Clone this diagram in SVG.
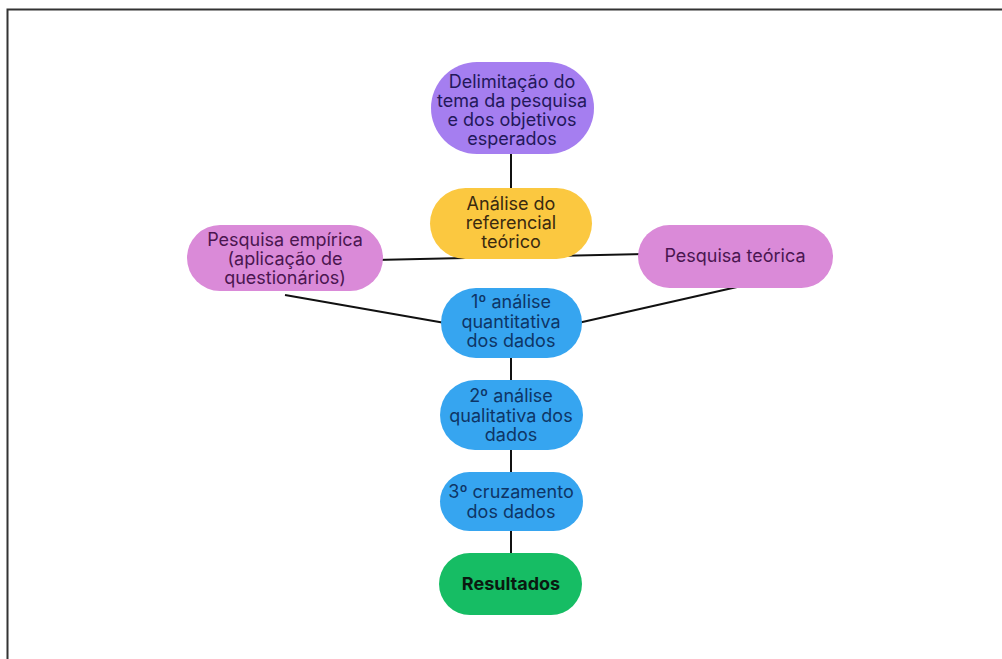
<svg xmlns="http://www.w3.org/2000/svg" width="1002" height="659" viewBox="0 0 1002 659">
<style>
text{font-family:Inter,"Noto Sans","Liberation Sans",sans-serif;font-size:18px;text-anchor:middle}
.c{stroke:#111;stroke-width:2;fill:none}
.pu{fill:#A57EF0}
.ye{fill:#FBC840}
.pk{fill:#DA8AD8}
.bl{fill:#36A5F0}
.gr{fill:#16BD64}
.tp{fill:#23185a}.ty{fill:#3a2a10}.tk{fill:#4a1650}.tb{fill:#0e3566}.tg{fill:#0a1a10;font-weight:bold}
</style>
<rect x="0" y="0" width="1002" height="659" fill="#fff"/>
<path d="M7.5 659 V9.5 H1002" stroke="#333" stroke-width="2" fill="none"/>
<g id="connectors">
<line class="c" x1="511" y1="150" x2="511" y2="192"/>
<line class="c" x1="375" y1="260" x2="645" y2="254"/>
<line class="c" x1="285" y1="295" x2="445" y2="323"/>
<line class="c" x1="737" y1="287" x2="578" y2="323"/>
<line class="c" x1="511" y1="355" x2="511" y2="383"/>
<line class="c" x1="511" y1="447" x2="511" y2="475"/>
<line class="c" x1="511" y1="528" x2="511" y2="556"/>
</g>
<g id="n1"><rect class="pu" x="431" y="62" width="163" height="92" rx="46"/>
<text class="tp"><tspan x="512" y="88">Delimitação do</tspan><tspan x="512" y="107">tema da pesquisa</tspan><tspan x="512" y="126">e dos objetivos</tspan><tspan x="512" y="145">esperados</tspan></text></g>
<g id="n2"><rect class="ye" x="430" y="188" width="162" height="71" rx="35.5"/>
<text class="ty"><tspan x="511" y="210">Análise do</tspan><tspan x="511" y="229">referencial</tspan><tspan x="511" y="248">teórico</tspan></text></g>
<g id="n3"><rect class="pk" x="187" y="225" width="196" height="66" rx="33"/>
<text class="tk"><tspan x="285" y="246">Pesquisa empírica</tspan><tspan x="285" y="265">(aplicação de</tspan><tspan x="285" y="284">questionários)</tspan></text></g>
<g id="n4"><rect class="pk" x="638" y="225" width="195" height="63" rx="31.5"/>
<text class="tk"><tspan x="735" y="262">Pesquisa teórica</tspan></text></g>
<g id="n5"><rect class="bl" x="441" y="288" width="141" height="70" rx="35"/>
<text class="tb"><tspan x="511" y="308">1º análise</tspan><tspan x="511" y="328">quantitativa</tspan><tspan x="511" y="347">dos dados</tspan></text></g>
<g id="n6"><rect class="bl" x="440" y="380" width="143" height="70" rx="35"/>
<text class="tb"><tspan x="511" y="402">2º análise</tspan><tspan x="511" y="422">qualitativa dos</tspan><tspan x="511" y="441">dados</tspan></text></g>
<g id="n7"><rect class="bl" x="440" y="472" width="143" height="59" rx="29.5"/>
<text class="tb"><tspan x="511" y="498">3º cruzamento</tspan><tspan x="511" y="518">dos dados</tspan></text></g>
<g id="n8"><rect class="gr" x="439" y="553" width="143" height="62" rx="31"/>
<text class="tg"><tspan x="511" y="590">Resultados</tspan></text></g>
</svg>
